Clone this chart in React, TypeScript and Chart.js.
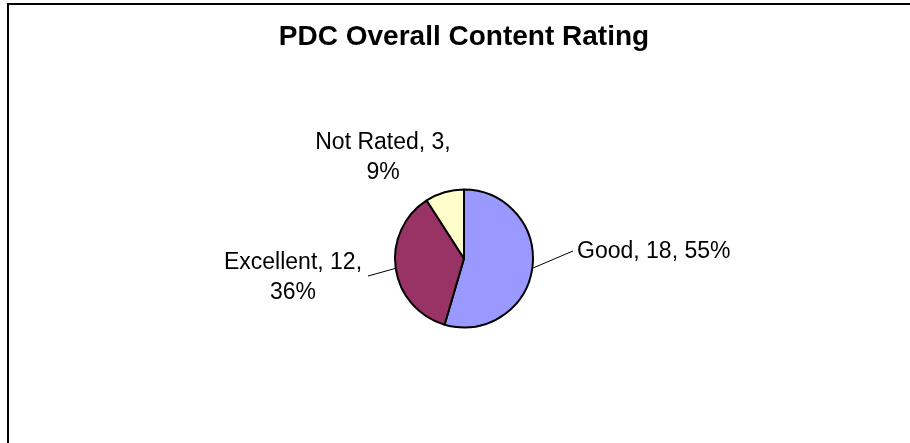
import React, { useEffect, useRef } from "react";
import { Chart, registerables } from "chart.js";

Chart.register(...registerables);

const FONT_FAMILY = "'Liberation Sans', Arial, Helvetica, sans-serif";

const TITLE = "PDC Overall Content Rating";
const categories = ["Good", "Excellent", "Not Rated"];
const counts = [18, 12, 3];
const sliceColors = ["#9999FF", "#993366", "#FFFFCC"];

// Label placement relative to the pie centre (px for a 70px pie radius)
const LABEL_LAYOUT: { lines: number; align: CanvasTextAlign; x: number; y: number; leader: number[] | null }[] = [
  { lines: 1, align: "left", x: 113, y: -0.5, leader: [109, -7.5] },
  { lines: 2, align: "center", x: -171, y: 10.5, leader: [-96, 17.5] },
  { lines: 2, align: "center", x: -81, y: -109.5, leader: null },
];

const pieLabels = {
  id: "pieLabels",
  afterDatasetsDraw(chart: any) {
    const ctx: CanvasRenderingContext2D = chart.ctx;
    const meta = chart.getDatasetMeta(0);
    const data = chart.data.datasets[0].data as number[];
    const labels = chart.data.labels as string[];
    const total = data.reduce((a, b) => a + b, 0);
    ctx.save();
    ctx.font = `23px ${FONT_FAMILY}`;
    ctx.fillStyle = "#000";
    ctx.strokeStyle = "#000";
    ctx.lineWidth = 1;
    ctx.textBaseline = "alphabetic";
    meta.data.forEach((arc: any, i: number) => {
      const { x, y, startAngle, endAngle, outerRadius } = arc.getProps(
        ["x", "y", "startAngle", "endAngle", "outerRadius"],
        true
      );
      const s = (outerRadius + 1) / 70;
      const mid = (startAngle + endAngle) / 2;
      const L = LABEL_LAYOUT[i];
      const pct = Math.round((data[i] / total) * 100);
      const lines =
        L.lines === 1
          ? [`${labels[i]}, ${data[i]}, ${pct}%`]
          : [`${labels[i]}, ${data[i]},`, `${pct}%`];
      if (L.leader) {
        ctx.beginPath();
        ctx.moveTo(x + outerRadius * Math.cos(mid), y + outerRadius * Math.sin(mid));
        ctx.lineTo(x + L.leader[0] * s, y + L.leader[1] * s);
        ctx.stroke();
      }
      ctx.textAlign = L.align;
      lines.forEach((t, j) => ctx.fillText(t, x + L.x * s, y + L.y * s + j * 29.5));
    });
    ctx.restore();
  },
};

export default function App() {
  const canvasRef = useRef<HTMLCanvasElement | null>(null);

  useEffect(() => {
    if (!canvasRef.current) return;
    const chart = new Chart(canvasRef.current, {
      type: "pie",
      data: {
        labels: categories,
        datasets: [
          {
            data: counts,
            backgroundColor: sliceColors,
            borderColor: "#000000",
            borderWidth: 2,
          },
        ],
      },
      options: {
        responsive: false,
        animation: false,
        devicePixelRatio: 1,
        layout: { padding: { left: 18, right: 0, top: 0, bottom: 114.5 } },
        plugins: {
          legend: { display: false },
          tooltip: { enabled: false },
          title: {
            display: true,
            text: TITLE,
            color: "#000000",
            font: { size: 28, weight: "bold", family: FONT_FAMILY, lineHeight: 1.2 },
            padding: { top: 20.5, bottom: 134.4 },
          },
        },
      },
      plugins: [pieLabels],
    });
    return () => chart.destroy();
  }, []);

  return (
    <>
      <canvas
        ref={canvasRef}
        width={910}
        height={443}
        style={{ position: "fixed", left: 0, top: 0, width: 910, height: 443, background: "#ffffff" }}
      />
      <div
        style={{
          position: "fixed",
          left: 7,
          top: 3,
          width: 1000,
          height: 1000,
          borderTop: "2px solid #000",
          borderLeft: "2px solid #000",
          pointerEvents: "none",
        }}
      />
    </>
  );
}
